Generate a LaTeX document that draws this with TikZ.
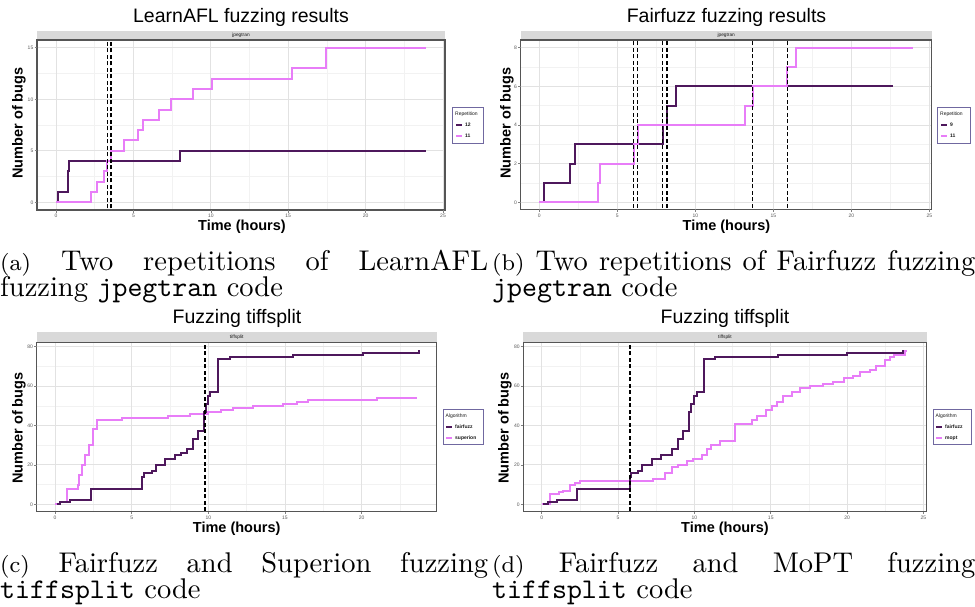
\documentclass[tikz,border=0pt]{standalone}
\usepackage{fontspec}
\usepackage{graphicx}
\newfontfamily\arialfont{Liberation Sans}
\definecolor{dk}{RGB}{78,24,92}
\definecolor{pk}{RGB}{232,125,248}
\definecolor{gridmaj}{RGB}{226,226,226}
\definecolor{gridmin}{RGB}{242,242,242}
\definecolor{stripc}{RGB}{217,217,217}
\definecolor{legbd}{RGB}{112,104,160}
\definecolor{panbd}{RGB}{85,85,85}
\tikzset{
  dkline/.style={draw=dk, line width=2pt},
  pkline/.style={draw=pk, line width=2pt},
  vdash/.style={draw=black, line width=1.5pt, dash pattern=on 4pt off 2.5pt},
  majgrid/.style={draw=gridmaj, line width=0.9pt},
  mingrid/.style={draw=gridmin, line width=0.6pt},
  panelbd/.style={draw=panbd, line width=1.2pt},
  tickmk/.style={draw=gray, line width=0.6pt},
  ptitle/.style={font=\arialfont\fontsize{19.5}{20}\selectfont, inner sep=0},
  axlab/.style={font=\arialfont\bfseries\fontsize{14.5}{15}\selectfont, inner sep=0},
  ticklab/.style={font=\arialfont\fontsize{5}{5}\selectfont, text=gray!70!black, inner sep=0},
  striplab/.style={font=\arialfont\fontsize{4.8}{5}\selectfont, text=gray!20!black, inner sep=0},
  legbox/.style={draw=legbd, line width=0.9pt, fill=white, inner sep=0, anchor=north west},
  legtitle/.style={font=\arialfont\fontsize{5}{5}\selectfont, inner sep=0, anchor=west, text=gray!20!black},
  legtxt/.style={font=\arialfont\bfseries\fontsize{5}{5}\selectfont, inner sep=0, anchor=west, text=gray!20!black},
  capt/.style={inner sep=0, anchor=base west},
}
\begin{document}
\begin{tikzpicture}[x=1pt, y=-1pt]
\useasboundingbox (0,0) rectangle (975,607);
\fill[white] (0,0) rectangle (975,607);

% ================= Panel (a) =================
\node[ptitle] (ta) at (241,17) {LearnAFL fuzzing results};
\fill[stripc] (37,31) rectangle (445,40);
\node[striplab] (sa) at (241,35.5) {jpegtran};
\begin{scope}
  \clip (37,40) rectangle (445,210);
  \begin{scope}[shift={(56,202.3)}, x=15.48pt, y=10.3pt]
    \foreach \v in {-2.5,2.5,...,27.5} \draw[mingrid] (\v,-5) -- (\v,20);
    \foreach \v in {-2.5,2.5,7.5,12.5,17.5} \draw[mingrid] (-5,\v) -- (30,\v);
    \foreach \v in {0,5,...,25} \draw[majgrid] (\v,-5) -- (\v,20);
    \foreach \v in {0,5,10,15} \draw[majgrid] (-5,\v) -- (30,\v);
    \draw[dkline] plot[const plot] coordinates {(0.1,0) (0.15,1) (0.78,3) (0.82,4) (8.0,5) (23.9,5)};
    \draw[pkline] plot[const plot] coordinates {(0,0) (2.24,1) (2.67,2) (3.1,3) (3.3,4) (3.55,5) (4.4,6) (5.28,7) (5.6,8) (6.67,9) (7.45,10) (8.87,11) (10.1,12) (15.27,13) (17.42,15) (23.9,15)};
    \foreach \v in {3.34,3.55} \draw[vdash] (\v,-5) -- (\v,20);
  \end{scope}
\end{scope}
\draw[panelbd] (37,40) rectangle (445,210);
\foreach \v in {0,5,...,25} {
  \draw[tickmk] ({56+\v*15.48},210) -- ({56+\v*15.48},212.5);
  \node[ticklab] (xa\v) at ({56+\v*15.48},215.5) {\v};
}
\foreach \v in {0,5,10,15} {
  \draw[tickmk] (34.5,{202.3-\v*10.3}) -- (37,{202.3-\v*10.3});
  \node[ticklab, anchor=east] (ya\v) at (33.5,{202.3-\v*10.3}) {\v};
}
\node[axlab] (xla) at (242,226.5) {Time (hours)};
\node[axlab, rotate=90] (yla) at (19,123) {Number of bugs};
\node[legbox, minimum width=31pt, minimum height=36pt] (lega) at (452,107) {};
\node[legtitle] (legat) at (455,114.5) {Repetition};
\draw[dkline] (456,125) -- (462,125);
\node[legtxt] (lega1) at (465,125) {12};
\draw[pkline] (456,136) -- (462,136);
\node[legtxt] (lega2) at (465,136) {11};

% ================= Panel (b) =================
\node[ptitle] (tb) at (726.5,17) {Fairfuzz fuzzing results};
\fill[stripc] (520.7,31) rectangle (931.7,40);
\node[striplab] (sb) at (726.2,35.5) {jpegtran};
\begin{scope}
  \clip (520.7,40) rectangle (931.7,209.3);
  \begin{scope}[shift={(539.3,202.3)}, x=15.6pt, y=19.33pt]
    \foreach \v in {-2.5,2.5,...,27.5} \draw[mingrid] (\v,-5) -- (\v,20);
    \foreach \v in {1,3,5,7} \draw[mingrid] (-5,\v) -- (30,\v);
    \foreach \v in {0,5,...,25} \draw[majgrid] (\v,-5) -- (\v,20);
    \foreach \v in {0,2,4,6,8} \draw[majgrid] (-5,\v) -- (30,\v);
    \draw[dkline] plot[const plot] coordinates {(0.3,0) (0.32,1) (1.99,2) (2.29,3) (7.9,4) (8.2,5) (8.74,6) (22.7,6)};
    \draw[pkline] plot[const plot] coordinates {(0,0) (3.74,1) (3.89,2) (6.05,3) (6.3,4) (13.2,5) (13.68,6) (15.9,7) (16.45,8) (23.93,8)};
    \foreach \v in {6.05,6.3,7.9,8.18,13.68,15.9} \draw[vdash] (\v,-5) -- (\v,20);
  \end{scope}
\end{scope}
\draw[panelbd] (520.7,40) rectangle (931.7,209.3);
\foreach \v in {0,5,...,25} {
  \draw[tickmk] ({539.3+\v*15.6},209.3) -- ({539.3+\v*15.6},211.8);
  \node[ticklab] (xb\v) at ({539.3+\v*15.6},215.5) {\v};
}
\foreach \v in {0,2,4,6,8} {
  \draw[tickmk] (518.2,{202.3-\v*19.33}) -- (520.7,{202.3-\v*19.33});
  \node[ticklab, anchor=east] (yb\v) at (517,{202.3-\v*19.33}) {\v};
}
\node[axlab] (xlb) at (726.5,226.5) {Time (hours)};
\node[axlab, rotate=90] (ylb) at (507,123) {Number of bugs};
\node[legbox, minimum width=32.7pt, minimum height=36pt] (legb) at (937.3,107) {};
\node[legtitle] (legbt) at (940,114.5) {Repetition};
\draw[dkline] (941,125) -- (947,125);
\node[legtxt] (legb1) at (950,125) {9};
\draw[pkline] (941,136) -- (947,136);
\node[legtxt] (legb2) at (950,136) {11};

% ================= Caption (a), (b) =================
\node[capt] (capa) at (0,270) {\scalebox{2.85}{\parbox[t]{171.2pt}{\fontsize{10}{9.2}\selectfont {\footnotesize(a)} Two repetitions of LearnAFL\linebreak fuzzing \texttt{jpegtran} code}}};
\node[capt] (capb) at (492,270) {\scalebox{2.85}{\parbox[t]{169.5pt}{\fontsize{10}{9.2}\selectfont {\footnotesize(b)} Two repetitions of Fairfuzz fuzzing\linebreak \texttt{jpegtran} code}}};

% ================= Panel (c) =================
\node[ptitle] (tc) at (237,318) {Fuzzing tiffsplit};
\fill[stripc] (36.7,332.3) rectangle (436.7,342.7);
\node[striplab] (sc) at (236.7,337.5) {tiffsplit};
\begin{scope}
  \clip (36.7,342.7) rectangle (436.7,511.7);
  \begin{scope}[shift={(55,504.3)}, x=15.33pt, y=1.97pt]
    \foreach \v in {-2.5,2.5,...,27.5} \draw[mingrid] (\v,-10) -- (\v,100);
    \foreach \v in {10,30,50,70} \draw[mingrid] (-5,\v) -- (30,\v);
    \foreach \v in {0,5,...,25} \draw[majgrid] (\v,-10) -- (\v,100);
    \foreach \v in {0,20,40,60,80} \draw[majgrid] (-5,\v) -- (30,\v);
    \draw[pkline] plot[const plot] coordinates {(0,0) (0.3,1) (0.76,8) (1.48,10) (1.55,15) (1.75,20) (1.95,25) (2.2,30) (2.5,38) (2.76,43) (4.35,44) (7.4,45) (8.8,46) (10,47) (10.8,48) (11.6,49) (12.9,50) (14.9,51) (15.8,52) (16.5,53) (21,54) (23.6,54)};
    \draw[dkline] plot[const plot] coordinates {(0.1,0) (0.3,1) (1.0,2) (2.33,8) (5.7,14) (5.8,16) (6.3,17) (6.6,20) (7.2,23) (7.8,25) (8.2,26) (8.6,28) (9.0,33) (9.3,37) (9.74,47) (9.85,51) (9.95,55) (10.1,57) (10.65,74) (11.4,75) (15.5,76) (20.1,77) (23.7,77) (23.75,78) (23.76,78)};
    \draw[vdash] (9.78,-10) -- (9.78,100);
  \end{scope}
\end{scope}
\draw[panelbd] (36.7,342.7) rectangle (436.7,511.7);
\foreach \v in {0,5,...,20} {
  \draw[tickmk] ({55+\v*15.33},511.7) -- ({55+\v*15.33},514.2);
  \node[ticklab] (xc\v) at ({55+\v*15.33},517.5) {\v};
}
\foreach \v in {0,20,40,60,80} {
  \draw[tickmk] (34.2,{504.3-\v*1.97}) -- (36.7,{504.3-\v*1.97});
  \node[ticklab, anchor=east] (yc\v) at (33.2,{504.3-\v*1.97}) {\v};
}
\node[axlab] (xlc) at (236.7,528.5) {Time (hours)};
\node[axlab, rotate=90] (ylc) at (19,428) {Number of bugs};
\node[legbox, minimum width=40.6pt, minimum height=34.7pt] (legc) at (442.7,409.3) {};
\node[legtitle] (legct) at (445.5,416.5) {Algorithm};
\draw[dkline] (446,427) -- (452,427);
\node[legtxt] (legc1) at (455,427) {fairfuzz};
\draw[pkline] (446,438) -- (452,438);
\node[legtxt] (legc2) at (455,438) {superion};

% ================= Panel (d) =================
\node[ptitle] (td) at (725,318) {Fuzzing tiffsplit};
\fill[stripc] (523.3,332.3) rectangle (926.7,342.7);
\node[striplab] (sd) at (725,337.5) {tiffsplit};
\begin{scope}
  \clip (523.3,342.7) rectangle (926.7,511.7);
  \begin{scope}[shift={(541.7,504.3)}, x=15.27pt, y=1.97pt]
    \foreach \v in {-2.5,2.5,...,27.5} \draw[mingrid] (\v,-10) -- (\v,100);
    \foreach \v in {10,30,50,70} \draw[mingrid] (-5,\v) -- (30,\v);
    \foreach \v in {0,5,...,25} \draw[majgrid] (\v,-10) -- (\v,100);
    \foreach \v in {0,20,40,60,80} \draw[majgrid] (-5,\v) -- (30,\v);
    \draw[pkline] plot[const plot] coordinates {(0,0) (0.55,5) (1.1,6) (1.4,7) (1.86,10) (2.2,11) (2.5,12) (7.3,13) (8.1,16) (8.5,19) (8.95,20) (9.5,22) (9.9,23) (10.5,25) (10.8,28) (11.1,30) (11.7,32) (12.66,41) (13.75,43) (14.1,45) (14.7,48) (15.07,50) (15.4,52) (15.83,55) (16.4,57) (16.9,59) (17.6,60) (18.45,61) (19.1,62) (19.8,64) (20.4,65) (20.85,67) (21.5,68) (21.9,70) (22.5,73) (22.8,75) (23.1,76) (23.8,78) (23.9,78)};
    \draw[dkline] plot[const plot] coordinates {(0.1,0) (0.4,1) (1.0,2) (2.34,8) (5.79,14) (5.85,16) (6.3,17) (6.6,20) (7.2,23) (7.8,25) (8.5,28) (8.95,33) (9.24,37) (9.67,47) (9.8,51) (9.98,55) (10.15,57) (10.63,74) (11.35,75) (15.5,76) (20,77) (23.6,77) (23.65,78) (23.66,78)};
    \draw[vdash] (5.79,-10) -- (5.79,100);
  \end{scope}
\end{scope}
\draw[panelbd] (523.3,342.7) rectangle (926.7,511.7);
\foreach \v in {0,5,...,25} {
  \draw[tickmk] ({541.7+\v*15.27},511.7) -- ({541.7+\v*15.27},514.2);
  \node[ticklab] (xd\v) at ({541.7+\v*15.27},517.5) {\v};
}
\foreach \v in {0,20,40,60,80} {
  \draw[tickmk] (520.8,{504.3-\v*1.97}) -- (523.3,{504.3-\v*1.97});
  \node[ticklab, anchor=east] (yd\v) at (519.8,{504.3-\v*1.97}) {\v};
}
\node[axlab] (xld) at (725,528.5) {Time (hours)};
\node[axlab, rotate=90] (yld) at (505,428) {Number of bugs};
\node[legbox, minimum width=38pt, minimum height=34.7pt] (legd) at (932.7,409.3) {};
\node[legtitle] (legdt) at (935.5,416.5) {Algorithm};
\draw[dkline] (936,427) -- (942,427);
\node[legtxt] (legd1) at (945,427) {fairfuzz};
\draw[pkline] (936,438) -- (942,438);
\node[legtxt] (legd2) at (945,438) {mopt};

% ================= Caption (c), (d) =================
\node[capt] (capc) at (0,572) {\scalebox{2.85}{\parbox[t]{171.2pt}{\fontsize{10}{9.2}\selectfont {\footnotesize(c)} Fairfuzz and Superion fuzzing\linebreak \texttt{tiffsplit} code}}};
\node[capt] (capd) at (492,572) {\scalebox{2.85}{\parbox[t]{169.5pt}{\fontsize{10}{9.2}\selectfont {\footnotesize(d)} Fairfuzz and MoPT fuzzing\linebreak \texttt{tiffsplit} code}}};
\end{tikzpicture}
\end{document}
